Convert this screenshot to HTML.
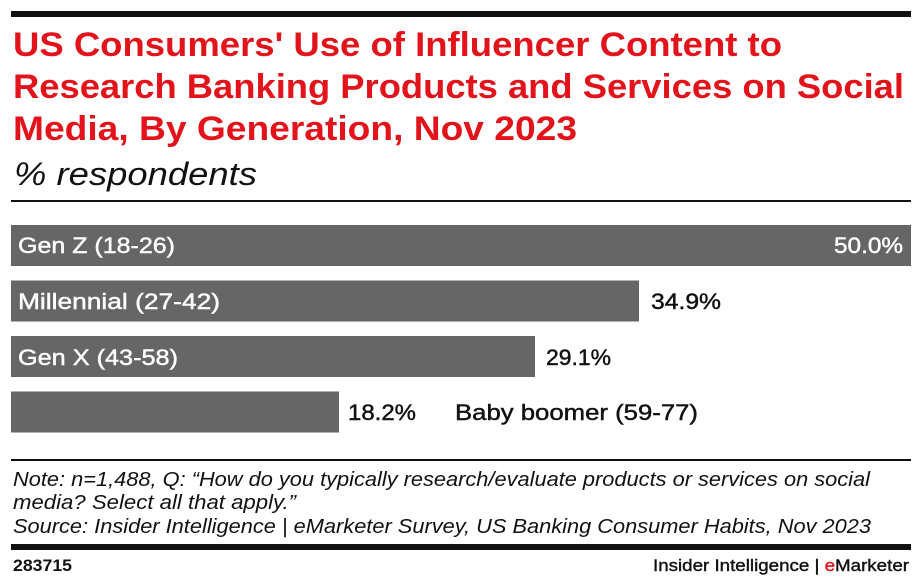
<!DOCTYPE html>
<html>
<head>
<meta charset="utf-8">
<style>
  html,body{margin:0;padding:0;background:#fff;}
  svg{display:block;}
  text{font-family:"Liberation Sans",sans-serif;}
</style>
</head>
<body>
<svg width="922" height="586" viewBox="0 0 922 586" xmlns="http://www.w3.org/2000/svg">
  <rect x="0" y="0" width="922" height="586" fill="#fff"/>
  <!-- top rule -->
  <rect x="11" y="11" width="900" height="6" fill="#111"/>
  <!-- title -->
  <g fill="#e3131b" font-weight="bold" font-size="34">
    <text x="13" y="56" textLength="769" lengthAdjust="spacingAndGlyphs">US Consumers' Use of Influencer Content to</text>
    <text x="13" y="98" textLength="891" lengthAdjust="spacingAndGlyphs">Research Banking Products and Services on Social</text>
    <text x="13" y="140" textLength="564" lengthAdjust="spacingAndGlyphs">Media, By Generation, Nov 2023</text>
  </g>
  <text x="14" y="185" font-size="32" font-style="italic" fill="#111" textLength="243" lengthAdjust="spacingAndGlyphs">% respondents</text>
  <rect x="11" y="200" width="900" height="2" fill="#111"/>

  <!-- bars -->
  <rect x="11" y="225" width="900" height="41" fill="#666"/>
  <rect x="11" y="280.5" width="628" height="41" fill="#666"/>
  <rect x="11" y="336" width="524" height="41" fill="#666"/>
  <rect x="11" y="391.5" width="328" height="41" fill="#666"/>

  <g font-size="22" stroke-width="0.45">
    <text x="18" y="253" fill="#fff" stroke="#fff" textLength="157" lengthAdjust="spacingAndGlyphs">Gen Z (18-26)</text>
    <text x="834" y="253" fill="#fff" stroke="#fff" textLength="69" lengthAdjust="spacingAndGlyphs">50.0%</text>
    <text x="18" y="309" fill="#fff" stroke="#fff" textLength="202" lengthAdjust="spacingAndGlyphs">Millennial (27-42)</text>
    <text x="651" y="309" fill="#111" stroke="#111" textLength="70" lengthAdjust="spacingAndGlyphs">34.9%</text>
    <text x="18" y="365" fill="#fff" stroke="#fff" textLength="160" lengthAdjust="spacingAndGlyphs">Gen X (43-58)</text>
    <text x="546" y="365" fill="#111" stroke="#111" textLength="65" lengthAdjust="spacingAndGlyphs">29.1%</text>
    <text x="348" y="420" fill="#111" stroke="#111" textLength="68" lengthAdjust="spacingAndGlyphs">18.2%</text>
    <text x="455" y="420" fill="#111" stroke="#111" textLength="243" lengthAdjust="spacingAndGlyphs">Baby boomer (59-77)</text>
  </g>

  <rect x="11" y="459" width="900" height="2" fill="#111"/>
  <g font-size="20" font-style="italic" fill="#111">
    <text x="13" y="486" textLength="857" lengthAdjust="spacingAndGlyphs">Note: n=1,488, Q: “How do you typically research/evaluate products or services on social</text>
    <text x="13" y="509" textLength="283" lengthAdjust="spacingAndGlyphs">media? Select all that apply.”</text>
    <text x="13" y="533" textLength="858" lengthAdjust="spacingAndGlyphs">Source: Insider Intelligence | eMarketer Survey, US Banking Consumer Habits, Nov 2023</text>
  </g>
  <rect x="11" y="544" width="900" height="6" fill="#111"/>
  <text x="13" y="571" font-size="17" font-weight="bold" fill="#111" textLength="59" lengthAdjust="spacingAndGlyphs">283715</text>
  <text x="653" y="571" font-size="17" fill="#111" stroke="#111" stroke-width="0.4" textLength="256" lengthAdjust="spacingAndGlyphs">Insider Intelligence | <tspan fill="#e3131b" stroke="#e3131b">e</tspan>Marketer</text>
</svg>
</body>
</html>
